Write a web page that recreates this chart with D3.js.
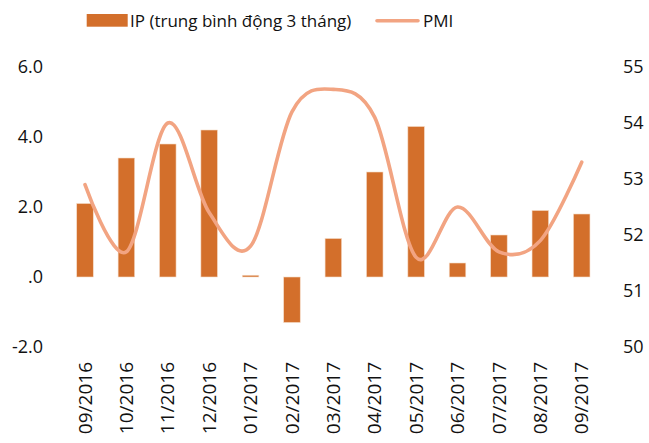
<!DOCTYPE html>
<html>
<head>
<meta charset="utf-8">
<script src="https://cdn.jsdelivr.net/npm/d3@7"></script>
<style>
  body { margin: 0; background: #fff; }
  text { font-family: "Open Sans", sans-serif; fill: #111; }
</style>
</head>
<body>
<div id="chart"></div>
<script>
// data
const months = ["09/2016","10/2016","11/2016","12/2016","01/2017","02/2017","03/2017",
                "04/2017","05/2017","06/2017","07/2017","08/2017","09/2017"];
const ipValues = [2.1, 3.4, 3.8, 4.2, 0.05, -1.3, 1.1, 3.0, 4.3, 0.4, 1.2, 1.9, 1.8];
const pmiValues = [52.9, 51.7, 54.0, 52.4, 51.8, 54.2, 54.6, 54.1, 51.6, 52.5, 51.7, 51.9, 53.3];
const leftTicks = [-2, 0, 2, 4, 6];
const rightTicks = [50, 51, 52, 53, 54, 55];

const width = 649, height = 443;
const barColor = "#D36F2B", lineColor = "#F2A482";

const svg = d3.select("#chart").append("svg")
  .attr("width", width)
  .attr("height", height);

const x = d3.scaleBand()
  .domain(months)
  .range([64.3, 602.4])
  .paddingInner(0.6)
  .paddingOuter(0.3);

const yLeft = d3.scaleLinear().domain([-2, 6]).range([347, 67]);
const yRight = d3.scaleLinear().domain([50, 55]).range([347, 67]);

// bars
svg.append("g")
  .selectAll("rect")
  .data(ipValues)
  .join("rect")
  .attr("x", (d, i) => x(months[i]))
  .attr("width", x.bandwidth())
  .attr("y", d => yLeft(Math.max(0, d)))
  .attr("height", d => Math.abs(yLeft(d) - yLeft(0)))
  .style("fill", barColor)
  .style("stroke", "#f6dcc8")
  .style("stroke-width", 0.6);

// PMI smoothed line
const line = d3.line()
  .x((d, i) => x(months[i]) + x.bandwidth() / 2)
  .y(d => yRight(d))
  .curve(d3.curveCatmullRom.alpha(0));

svg.append("path")
  .datum(pmiValues)
  .attr("d", line)
  .style("fill", "none")
  .style("stroke", lineColor)
  .style("stroke-width", 3.6)
  .style("stroke-linecap", "round");

// left axis (plain hyphen, ".0" for zero like the original)
const leftAxis = svg.append("g")
  .attr("transform", "translate(43,0)")
  .call(d3.axisLeft(yLeft).tickValues(leftTicks).tickSize(0).tickPadding(0)
    .tickFormat(d => d === 0 ? ".0" : d.toFixed(1)));
leftAxis.select(".domain").remove();
leftAxis.selectAll("text")
  .style("font-family", "'Open Sans', sans-serif")
  .style("font-size", "18px")
  .style("fill", "#111");

// right axis
const rightAxis = svg.append("g")
  .attr("transform", "translate(623,0)")
  .call(d3.axisRight(yRight).tickValues(rightTicks).tickSize(0).tickPadding(0)
    .tickFormat(d => String(d)));
rightAxis.select(".domain").remove();
rightAxis.selectAll("text")
  .style("font-family", "'Open Sans', sans-serif")
  .style("font-size", "18px")
  .style("fill", "#111");

// x labels, rotated
const xAxis = svg.append("g")
  .attr("transform", "translate(0,362)")
  .call(d3.axisBottom(x).tickSize(0).tickPadding(0));
xAxis.select(".domain").remove();
xAxis.selectAll("text")
  .attr("transform", "rotate(-90)")
  .attr("text-anchor", "end")
  .attr("x", 0)
  .attr("y", 0)
  .attr("dy", "0.35em")
  .style("font-family", "'Open Sans', sans-serif")
  .style("font-size", "19px")
  .style("fill", "#111");

// legend
const legend = svg.append("g");
legend.append("rect")
  .attr("x", 86.7).attr("y", 14)
  .attr("width", 41).attr("height", 12.7)
  .style("fill", barColor);
legend.append("text")
  .attr("x", 130).attr("y", 27)
  .style("font-size", "17px")
  .text("IP (trung bình động 3 tháng)");
legend.append("line")
  .attr("x1", 377).attr("x2", 418)
  .attr("y1", 20.7).attr("y2", 20.7)
  .style("stroke", lineColor)
  .style("stroke-width", 3.6)
  .style("stroke-linecap", "round");
legend.append("text")
  .attr("x", 423).attr("y", 27)
  .style("font-size", "17px")
  .text("PMI");
</script>
</body>
</html>
